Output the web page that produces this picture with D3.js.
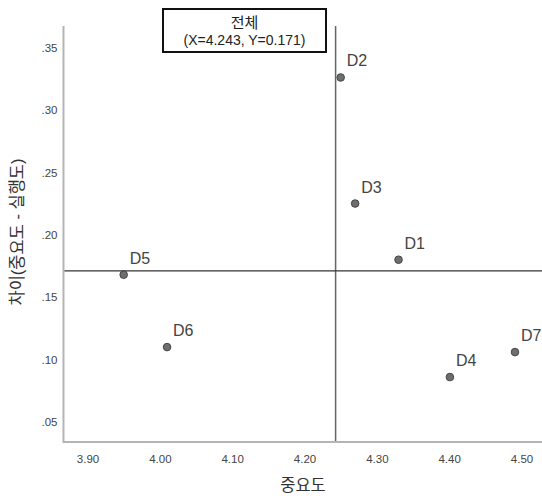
<!DOCTYPE html>
<html><head><meta charset="utf-8">
<script src="https://cdn.jsdelivr.net/npm/d3@7"></script>
<style>body{margin:0;background:#fff}svg{display:block}</style>
</head><body>
<svg id="c" width="542" height="500"></svg>
<script>
const labels = ["D1","D2","D3","D4","D5","D6","D7"];
const importance = [4.330, 4.250, 4.270, 4.401, 3.950, 4.010, 4.491];
const gap = [0.180, 0.326, 0.225, 0.086, 0.168, 0.110, 0.106];
const xTicks = [3.90, 4.00, 4.10, 4.20, 4.30, 4.40, 4.50];
const yTicks = [0.05, 0.10, 0.15, 0.20, 0.25, 0.30, 0.35];
const meanX = 4.243, meanY = 0.171;
const titleText = "전체";
const subtitleText = "(X=4.243, Y=0.171)";
const xLabel = "중요도";
const yLabel = "차이(중요도 - 실행도)";

const svg = d3.select("#c");
const font = "'Liberation Sans', Arial, 'Noto Sans CJK KR', sans-serif";
const pLeft = 63.5, pRight = 542, pTop = 26, pBottom = 442;
const x = d3.scaleLinear().domain([3.90, 4.50]).range([87.5, 521.5]);
const y = d3.scaleLinear().domain([0.05, 0.35]).range([422, 47.5]);

// axes
const xAxis = d3.axisBottom(x).tickValues(xTicks).tickFormat(d3.format(".2f")).tickSize(0).tickPadding(13);
const gx = svg.append("g").attr("transform", `translate(0,${pBottom})`).call(xAxis);
gx.select(".domain").remove();
gx.selectAll("text").attr("font-family", font).attr("font-size", 11.5).attr("fill", "#444");

const yAxis = d3.axisLeft(y).tickValues(yTicks).tickFormat(d => d3.format(".2f")(d).replace(/^0/, "")).tickSize(0).tickPadding(6);
const gy = svg.append("g").attr("transform", `translate(${pLeft},0)`).call(yAxis);
gy.select(".domain").remove();
gy.selectAll("text").attr("font-family", font).attr("font-size", 11.5).attr("fill", "#444");

svg.append("line").attr("x1", pLeft).attr("x2", pLeft).attr("y1", pTop).attr("y2", pBottom + 1)
  .attr("stroke", "#b4b4b4").attr("stroke-width", 2);
svg.append("line").attr("x1", pLeft).attr("x2", pRight).attr("y1", pBottom).attr("y2", pBottom)
  .attr("stroke", "#b4b4b4").attr("stroke-width", 2);

// reference lines
svg.append("line").attr("x1", x(meanX)).attr("x2", x(meanX)).attr("y1", pTop).attr("y2", pBottom - 1)
  .attr("stroke", "#666").attr("stroke-width", 1.5);
svg.append("line").attr("x1", pLeft + 1).attr("x2", pRight).attr("y1", y(meanY)).attr("y2", y(meanY))
  .attr("stroke", "#333").attr("stroke-width", 1.3);

// points
const data = labels.map((l, i) => ({l, x: importance[i], y: gap[i]}));
svg.selectAll("circle.pt").data(data).enter().append("circle")
  .attr("cx", d => x(d.x)).attr("cy", d => y(d.y)).attr("r", 3.8)
  .attr("fill", "#6e6e6e").attr("stroke", "#444").attr("stroke-width", 1);
svg.selectAll("text.lbl").data(data).enter().append("text")
  .attr("x", d => x(d.x) + 6).attr("y", d => y(d.y) - 11)
  .attr("font-family", font).attr("font-size", 16).attr("fill", "#444").text(d => d.l);

// title box
svg.append("rect").attr("x", 163).attr("y", 9).attr("width", 163).attr("height", 43)
  .attr("fill", "#fff").attr("stroke", "#111").attr("stroke-width", 2);
svg.append("text").attr("x", 244.5).attr("y", 28).attr("text-anchor", "middle")
  .attr("font-family", font).attr("font-size", 15).attr("fill", "#222").text(titleText);
svg.append("text").attr("x", 244.5).attr("y", 45).attr("text-anchor", "middle")
  .attr("font-family", font).attr("font-size", 14).attr("fill", "#222").text(subtitleText);

// axis titles
svg.append("text").attr("x", 303).attr("y", 491).attr("text-anchor", "middle")
  .attr("font-family", font).attr("font-size", 16.5).attr("fill", "#333").text(xLabel);
svg.append("text").attr("transform", "translate(23,232) rotate(-90)").attr("text-anchor", "middle")
  .attr("font-family", font).attr("font-size", 16.5).attr("fill", "#333").text(yLabel);
</script>
</body></html>
